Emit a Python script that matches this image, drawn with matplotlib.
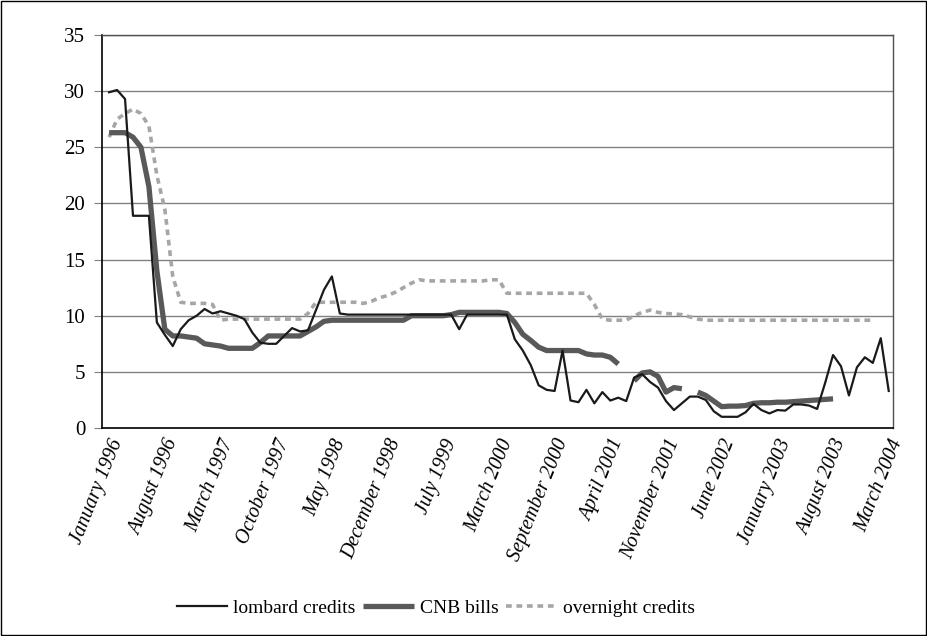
import numpy as np
import matplotlib
matplotlib.use("Agg")
import matplotlib.pyplot as plt
from matplotlib.patches import Rectangle

nan = np.nan

# monthly observations, January 1996 .. March 2004
lombard = [
    29.9, 30.1, 29.3, 18.9, 18.9, 18.9, 9.4, 8.3, 7.3, 8.8,
    9.6, 10.0, 10.6, 10.2, 10.4, 10.2, 10.0, 9.7, 8.5, 7.6,
    7.5, 7.5, 8.2, 8.9, 8.6, 8.7, 10.5, 12.3, 13.5, 10.2,
    10.1, 10.1, 10.1, 10.1, 10.1, 10.1, 10.1, 10.1, 10.1, 10.1,
    10.1, 10.1, 10.1, 10.1, 8.8, 10.1, 10.1, 10.1, 10.1, 10.1,
    10.1, 7.9, 6.9, 5.6, 3.8, 3.4, 3.3, 6.9, 2.45, 2.3,
    3.4, 2.2, 3.2, 2.45, 2.7, 2.4, 4.5, 4.8, 4.1, 3.6,
    2.4, 1.6, 2.2, 2.8, 2.8, 2.5, 1.5, 1.0, 1.0, 1.0,
    1.4, 2.15, 1.6, 1.3, 1.6, 1.55, 2.1, 2.1, 2.0, 1.7,
    4.0, 6.5, 5.5, 2.9, 5.4, 6.3, 5.8, 8.0, 3.3,
]

cnb_bills = [
    26.3, 26.3, 26.3, 25.9, 25.0, 21.5, 14.0, 8.8, 8.2, 8.2,
    8.1, 8.0, 7.5, 7.4, 7.3, 7.1, 7.1, 7.1, 7.1, 7.6,
    8.2, 8.2, 8.2, 8.2, 8.2, 8.6, 9.0, 9.5, 9.6, 9.6,
    9.6, 9.6, 9.6, 9.6, 9.6, 9.6, 9.6, 9.6, 10.0, 10.0,
    10.0, 10.0, 10.0, 10.1, 10.3, 10.3, 10.3, 10.3, 10.3, 10.3,
    10.2, 9.4, 8.35, 7.8, 7.2, 6.9, 6.9, 6.9, 6.9, 6.9,
    6.6, 6.5, 6.5, 6.3, 5.7, nan, 4.2, 4.9, 5.0, 4.6,
    3.2, 3.6, 3.5, nan, 3.2, 2.9, 2.4, 1.9, 1.95, 1.95,
    2.0, 2.2, 2.25, 2.25, 2.3, 2.3, 2.35, 2.4, 2.45, 2.5,
    2.55, 2.6, nan, nan, nan, nan, nan, nan, nan,
]

overnight = [
    25.9, 27.5, 28.0, 28.4, 28.0, 26.9, 22.5, 19.5, 13.5, 11.2,
    11.1, 11.1, 11.1, 11.0, 9.6, 9.7, 9.7, 9.7, 9.7, 9.7,
    9.7, 9.7, 9.7, 9.7, 9.7, 10.2, 11.2, 11.2, 11.2, 11.2,
    11.2, 11.2, 11.1, 11.3, 11.6, 11.8, 12.1, 12.5, 12.9, 13.2,
    13.1, 13.1, 13.1, 13.1, 13.1, 13.1, 13.1, 13.1, 13.2, 13.2,
    12.0, 12.0, 12.0, 12.0, 12.0, 12.0, 12.0, 12.0, 12.0, 12.0,
    12.0, 11.0, 9.7, 9.6, 9.6, 9.6, 10.0, 10.3, 10.5, 10.3,
    10.2, 10.15, 10.1, 9.9, 9.7, 9.6, 9.6, 9.6, 9.6, 9.6,
    9.6, 9.6, 9.6, 9.6, 9.6, 9.6, 9.6, 9.6, 9.6, 9.6,
    9.6, 9.6, 9.6, 9.6, 9.6, 9.6, 9.6, nan, nan,
]

tick_labels = [
    "January 1996", "August 1996", "March 1997", "October 1997",
    "May 1998", "December 1998", "July 1999", "March 2000",
    "September 2000", "April 2001", "November 2001", "June 2002",
    "January 2003", "August 2003", "March 2004",
]
label_step = 7

plt.rcParams["font.family"] = ["Liberation Serif", "DejaVu Serif"]

fig = plt.figure(figsize=(9.27, 6.36), dpi=100)
ax = fig.add_axes([0.110, 0.327, 0.853, 0.618])

x = np.arange(len(lombard))
ax.plot(x, overnight, color="#a6a6a6", lw=2.6, linestyle=(0, (1.6, 1.3)),
        dash_capstyle="butt", label="overnight credits", zorder=3)
ax.plot(x, cnb_bills, color="#595959", lw=3.8, solid_capstyle="butt",
        label="CNB bills", zorder=4)
ax.plot(x, lombard, color="#1a1a1a", lw=1.6, label="lombard credits", zorder=5)

ax.set_xlim(-0.9, 98.5)
ax.set_ylim(0, 35)
ax.set_yticks(range(0, 36, 5))
ax.yaxis.grid(True, color="#808080", lw=1.0)
ax.set_axisbelow(True)
ax.tick_params(axis="y", length=6, color="#808080", labelsize=15, pad=6)

ax.set_xticks(x[::label_step])
ax.set_xticklabels(tick_labels, rotation=68, ha="right", rotation_mode="anchor",
                   fontstyle="italic", fontsize=14.5)
ax.tick_params(axis="x", length=0, pad=6)

for side in ["top", "right"]:
    ax.spines[side].set_color("#505050")
    ax.spines[side].set_linewidth(1.0)
for side in ["left", "bottom"]:
    ax.spines[side].set_color("black")
    ax.spines[side].set_linewidth(1.2)

# legend order as in the source: lombard, CNB bills, overnight
h, l = ax.get_legend_handles_labels()
order = [2, 1, 0]
fig.legend([h[i] for i in order], [l[i] for i in order], loc="center",
           bbox_to_anchor=(0.47, 0.044), ncol=3, frameon=False, fontsize=14,
           handlelength=2.6, handletextpad=0.3, columnspacing=0.4)

# thin frame round the whole chart
fig.patches.append(Rectangle((0.001, 0.001), 0.998, 0.998, transform=fig.transFigure,
                             fill=False, edgecolor="black", lw=1.0))

fig.savefig("out.png", dpi=100)
